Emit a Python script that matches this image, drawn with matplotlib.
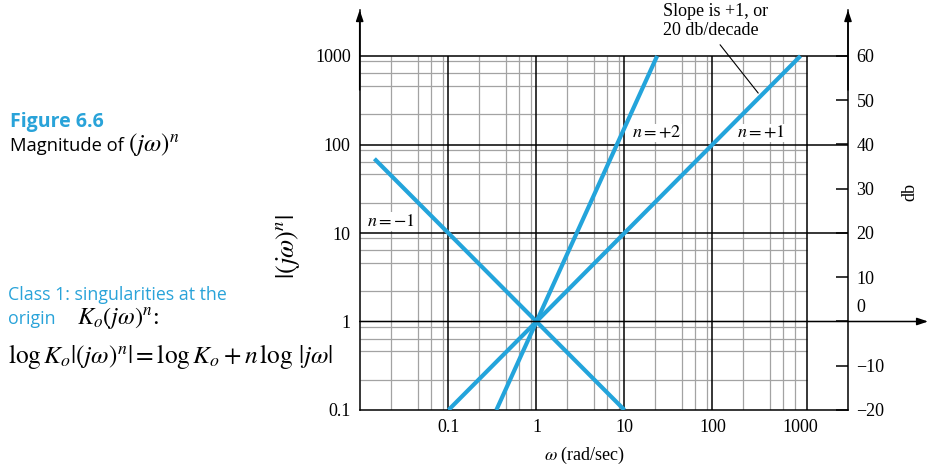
import matplotlib
matplotlib.use('Agg')
import matplotlib.pyplot as plt
from matplotlib.ticker import NullLocator

plt.rcParams['font.family'] = 'Liberation Serif'
plt.rcParams['mathtext.fontset'] = 'stix'

# values
w_neg1 = [0.0144, 10]
mag_neg1 = [69, 0.1]
w_pos1 = [0.1, 1000]
mag_pos1 = [0.1, 1000]
w_pos2 = [0.35, 23.5]
mag_pos2 = [0.1, 1000]

w_ticks = [0.1, 1, 10, 100, 1000]
w_labels = ['0.1', '1', '10', '100', '1000']
mag_ticks = [0.1, 1, 10, 100, 1000]
mag_labels = ['0.1', '1', '10', '100', '1000']
db_ticks = [-20, -10, 0, 10, 20, 30, 40, 50, 60]
db_labels = ['\u221220', '\u221210', '', '10', '20', '30', '40', '50', '60']

# grid layout of the paper
minor_x = [2.2, 4.5, 6.4, 8.7]
minor_y = [2.2, 4.6, 6.4, 8.7]
major_x = [0.1, 1, 10, 100]
grid_right = 1180

W, H = 932, 468
blue = '#29a3d9'
line_blue = '#23a4db'
grey = '#a3a3a3'

def fx(px):
    return px / W

def fy(py):
    return 1 - py / H

fig = plt.figure(figsize=(9.32, 4.68), dpi=100)
ax = fig.add_axes([359.7 / W, 58 / H, 488.3 / W, 400 / H])
ax.set_xscale('log')
ax.set_yscale('log')
ax.set_xlim(0.0098, 0.0098 * 10 ** (488.3 / 88))
ax.set_ylim(0.1, 0.1 * 10 ** (400 / 88.5))

# paper grid
for k in range(-2, 3):
    for m in minor_x:
        ax.vlines(m * 10 ** k, 0.1, 1000, color=grey, lw=0.9, zorder=1)
for k in range(-1, 3):
    for m in minor_y:
        ax.hlines(m * 10 ** k, ax.get_xlim()[0], grid_right, color=grey, lw=0.9, zorder=1)
for x in major_x + [grid_right]:
    ax.vlines(x, 0.1, 1000, color='black', lw=1.1, zorder=2)
for y in [10, 100, 1000]:
    ax.axhline(y, color='black', lw=1.1, zorder=2)

# the three asymptotes
for w, mag in [(w_neg1, mag_neg1), (w_pos1, mag_pos1), (w_pos2, mag_pos2)]:
    ax.plot(w, mag, color=line_blue, lw=3, solid_capstyle='butt', zorder=3)

for s in ['left', 'right', 'bottom']:
    ax.spines[s].set_linewidth(1.1)
ax.spines['top'].set_visible(False)

ax.set_xticks(w_ticks, w_labels)
ax.set_yticks(mag_ticks, mag_labels)
ax.xaxis.set_minor_locator(NullLocator())
ax.yaxis.set_minor_locator(NullLocator())
ax.tick_params(length=0, labelsize=13)
ax.tick_params(axis='y', pad=6.5)
ax.tick_params(axis='x', pad=6.5)

ax2 = ax.twinx()
ax2.set_yscale('log')
ax2.set_ylim(ax.get_ylim())
ax2.set_yticks([10 ** (d / 20) for d in db_ticks], db_labels)
ax2.yaxis.set_minor_locator(NullLocator())
ax2.tick_params(direction='in', length=9, width=1.1, pad=6.2, labelsize=13)
for s in ax2.spines.values():
    s.set_visible(False)
ax2.annotate('0', xy=(1, 10 ** (0 / 20)), xycoords=('axes fraction', 'data'),
             xytext=(6.2, 10), textcoords='offset points', va='center', ha='left',
             fontsize=13)

# axis arrows
arr = dict(arrowstyle='-|>,head_length=0.65,head_width=0.22', color='black',
           lw=1.1, shrinkA=0, shrinkB=0, mutation_scale=10)
ax.annotate('', xy=(0, 1), xycoords='axes fraction', xytext=(0, 0.8),
            arrowprops=arr, annotation_clip=False)
ax.annotate('', xy=(1, 1), xycoords='axes fraction', xytext=(1, 0.8),
            arrowprops=arr, annotation_clip=False)
ax.annotate('', xy=(1.164, 1), xycoords=('axes fraction', 'data'), xytext=(0, 1),
            textcoords=('axes fraction', 'data'), arrowprops=arr, annotation_clip=False)

# curve labels
box = dict(facecolor='white', edgecolor='none', pad=0.5)
ax.text(12.1, 135, r'$n=+2$', fontsize=13, va='center', ha='left', bbox=box, zorder=4)
ax.text(188, 135, r'$n=+1$', fontsize=13, va='center', ha='left', bbox=box, zorder=4)
ax.text(0.0118, 13.5, r'$n=-1$', fontsize=13, va='center', ha='left', bbox=box, zorder=4)

# slope note
fig.text(fx(663), fy(3), 'Slope is +1, or\n20 db/decade', fontsize=13,
         va='top', ha='left', linespacing=1.12)
ax.annotate('', xy=(331, 381), xytext=(122, 1340),
            arrowprops=dict(arrowstyle='-', lw=0.8, color='black', shrinkA=0, shrinkB=0),
            annotation_clip=False)

# axis titles
fig.text(fx(585), fy(455), r'$\omega$ (rad/sec)', fontsize=13, ha='center', va='center')
fig.text(fx(288), fy(247), r'$|(j\omega)^n|$', fontsize=19, rotation=90,
         ha='center', va='center')
fig.text(fx(910), fy(192), 'db', fontsize=13, rotation=90, ha='center', va='center')

# caption on the left
fig.text(fx(10), fy(127), 'Figure 6.6', fontfamily='Open Sans', fontweight='bold',
         color=blue, fontsize=14, va='baseline')
fig.text(fx(10), fy(151), 'Magnitude of', fontfamily='Open Sans',
         fontsize=13.2, va='baseline')
fig.text(fx(128), fy(151), r'$(j\omega)^n$', fontsize=18, va='baseline')
fig.text(fx(8), fy(300), 'Class 1: singularities at the', fontfamily='Open Sans',
         color=blue, fontsize=12.8, va='baseline')
fig.text(fx(8), fy(324), 'origin', fontfamily='Open Sans', color=blue, fontsize=12.8,
         va='baseline')
fig.text(fx(77), fy(324), r'$K_o(j\omega)^n$:', fontsize=17.5, va='baseline')
fig.text(fx(8), fy(363), r'$\log K_o|(j\omega)^n| = \log K_o + n\,\log\,|j\omega|$',
         fontsize=18.3, va='baseline')

fig.savefig('out.png', dpi=100)
